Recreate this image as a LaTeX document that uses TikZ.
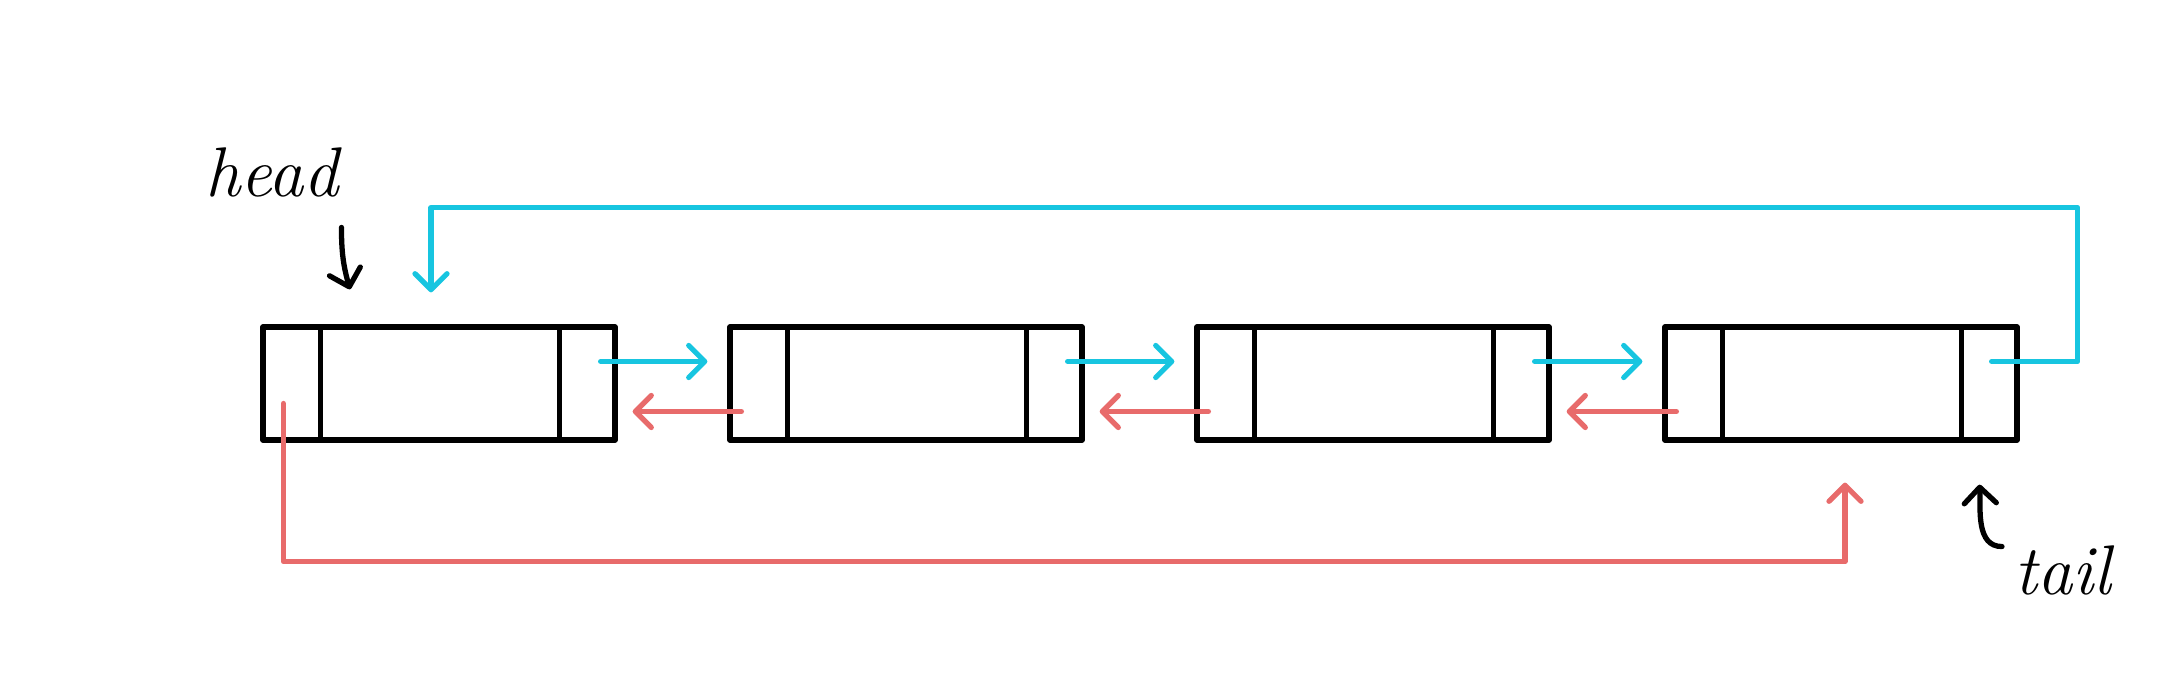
\documentclass[tikz,border=0pt]{standalone}
\usepackage{tikz}
\usetikzlibrary{arrows.meta,calc}
\definecolor{LinkCyan}{HTML}{17C5E0}
\definecolor{LinkCoral}{HTML}{E86B6B}

\begin{document}
\begin{tikzpicture}[
    cell/.style={draw,line width=1.5pt,line join=round,minimum width=3.52cm,minimum height=1.13cm,inner sep=0pt},
    nextptr/.style={LinkCyan,line width=1.5pt,line cap=round,line join=round,-{Straight Barb[length=1.6mm,width=3.2mm,round]}},
    prevptr/.style={LinkCoral,line width=1.5pt,line cap=round,line join=round,-{Straight Barb[length=1.6mm,width=3.2mm,round]}},
    ptr/.style={black,line width=1.5pt,line cap=round,-{Straight Barb[length=1.6mm,width=3.2mm,round]}},
    hand/.style={font=\fontsize{20}{24}\selectfont\itshape,inner sep=0pt}
  ]
        \useasboundingbox (0,0) rectangle (21.76,6.78);
        \foreach \i/\x in {1/4.39,2/9.06,3/13.73,4/18.41} {
          \node[cell] (n\i) at (\x,2.945) {};
          \draw[line width=1.5pt] ([xshift=6mm]n\i.north west) -- ([xshift=6mm]n\i.south west);
          \draw[line width=1.5pt] ([xshift=-5.8mm]n\i.north east) -- ([xshift=-5.8mm]n\i.south east);
        }
        \foreach \a/\b in {1/2,2/3,3/4} {
          \draw[nextptr] ([shift={(-0.17,0.22)}]n\a.east) -- ([shift={(-0.2,0.22)}]n\b.west);
          \draw[prevptr] ([shift={(0.14,-0.28)}]n\b.west) -- ([shift={(0.15,-0.28)}]n\a.east);
        }
        \draw[nextptr] ([shift={(-0.28,0.22)}]n4.east) -| ([shift={(0.58,1.76)}]n4.east) -| ([shift={(-0.08,0.32)}]n1.north);
        \draw[prevptr] ([shift={(0.23,-0.2)}]n1.west) |- ([shift={(0.04,-1.19)}]n4.south) -- ([shift={(0.04,-0.4)}]n4.south);
        \node[hand] (head) at (2.72,5.06) {head};
        \node[hand] (tail) at (20.63,1.08) {tail};
        \draw[ptr] ([shift={(0.02,-0.3)}]head.south east) to[bend right=8] ([shift={(-0.89,0.35)}]n1.north);
        \draw[ptr] ([shift={(-0.12,-0.02)}]tail.north west) to[out=180,in=-88] ([shift={(-0.4,-0.42)}]n4.south east);
      \end{tikzpicture}
\end{document}
